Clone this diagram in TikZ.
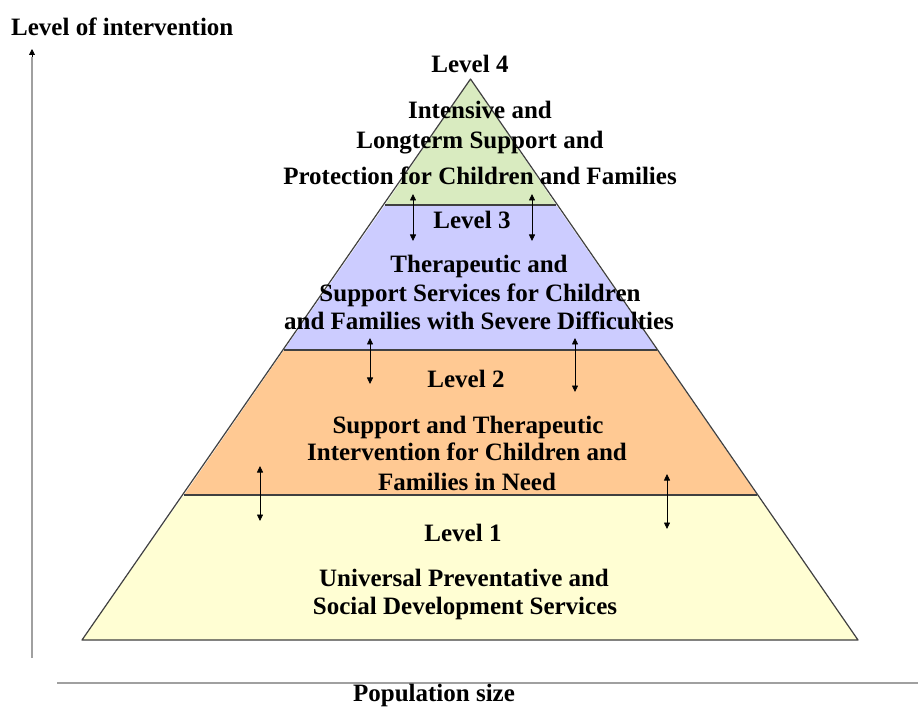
\documentclass[tikz,border=0pt]{standalone}
\usepackage{fontspec}
\setmainfont{Liberation Serif}
\usetikzlibrary{arrows.meta}
\definecolor{lvfour}{HTML}{D9EBC0}
\definecolor{lvthree}{HTML}{CCCCFF}
\definecolor{lvtwo}{HTML}{FFC993}
\definecolor{lvone}{HTML}{FFFED3}
\definecolor{edgegray}{HTML}{404040}
\definecolor{axisgray}{HTML}{A0A0A0}
\begin{document}
\begin{tikzpicture}[x=1pt,y=-1pt,
  band/.style={draw=edgegray,line width=1.2pt,line join=round},
  lbl/.style={font=\fontsize{25}{28}\selectfont\bfseries,inner sep=0pt,anchor=base},
  twoway/.style={{Triangle[length=6.5pt,width=6pt]}-{Triangle[length=6.5pt,width=6pt]},line width=0.8pt,black},
  axis/.style={axisgray,line width=1.8pt}]
\useasboundingbox (0,0) rectangle (918,708);
% pyramid corners
\coordinate (apex) at (470.5,79);
\coordinate (a4l) at (385,205); \coordinate (a4r) at (556,205);
\coordinate (a3l) at (284,350); \coordinate (a3r) at (657,350);
\coordinate (a2l) at (184,495); \coordinate (a2r) at (757,495);
\coordinate (a1l) at (82,640); \coordinate (a1r) at (858,640);
\fill[lvone] (a2l) -- (a2r) -- (a1r) -- (a1l) -- cycle;
\fill[lvtwo] (a3l) -- (a3r) -- (a2r) -- (a2l) -- cycle;
\fill[lvthree] (a4l) -- (a4r) -- (a3r) -- (a3l) -- cycle;
\fill[lvfour] (apex) -- (a4r) -- (a4l) -- cycle;
\draw[band] (apex) -- (a1r) -- (a1l) -- cycle;
\draw[band] (a4l) -- (a4r);
\draw[band] (a3l) -- (a3r);
\draw[band] (a2l) -- (a2r);
% axes
\coordinate (vbot) at (32,658); \coordinate (vtop) at (32,49);
\coordinate (vtip) at (32,57);
\draw[axis] (vbot) -- (vtip);
\draw[black,-{Triangle[length=6pt,width=6pt]},line width=0.8pt] (vtip) -- (vtop);
\coordinate (hl) at (57,683); \coordinate (hr) at (918,683);
\draw[axis] (hl) -- (hr);
% axis labels
\node[lbl,anchor=base west] (yl) at (11,36) {Level of intervention};
\node[lbl] (xl) at (434,701) {Population size};
% level 4
\node[lbl] (l4) at (470,73) {Level 4};
\node[lbl] (l4a) at (480,119) {Intensive and};
\node[lbl] (l4b) at (480,149) {Longterm Support and};
\node[lbl] (l4c) at (480,185) {Protection for Children and Families};
% level 3
\node[lbl] (l3) at (472,229) {Level 3};
\node[lbl] (l3a) at (479,273) {Therapeutic and};
\node[lbl] (l3b) at (480,302) {Support Services for Children};
\node[lbl] (l3c) at (479,330) {and Families with Severe Difficulties};
% level 2
\node[lbl] (l2) at (466,388) {Level 2};
\node[lbl] (l2a) at (468,433) {Support and Therapeutic};
\node[lbl] (l2b) at (467,460) {Intervention for Children and};
\node[lbl] (l2c) at (467,490) {Families in Need};
% level 1
\node[lbl] (l1) at (463,541) {Level 1};
\node[lbl] (l1a) at (464,586) {Universal Preventative and};
\node[lbl] (l1b) at (465,614) {Social Development Services};
% two-way arrows
\coordinate (p1t) at (413,194); \coordinate (p1b) at (413,241);
\coordinate (p2t) at (532,194); \coordinate (p2b) at (532,241);
\coordinate (p3t) at (370,338); \coordinate (p3b) at (370,384);
\coordinate (p4t) at (575,338); \coordinate (p4b) at (575,392);
\coordinate (p5t) at (260,466); \coordinate (p5b) at (260,521);
\coordinate (p6t) at (667,474); \coordinate (p6b) at (667,529);
\draw[twoway] (p1t) -- (p1b);
\draw[twoway] (p2t) -- (p2b);
\draw[twoway] (p3t) -- (p3b);
\draw[twoway] (p4t) -- (p4b);
\draw[twoway] (p5t) -- (p5b);
\draw[twoway] (p6t) -- (p6b);
\end{tikzpicture}
\end{document}
